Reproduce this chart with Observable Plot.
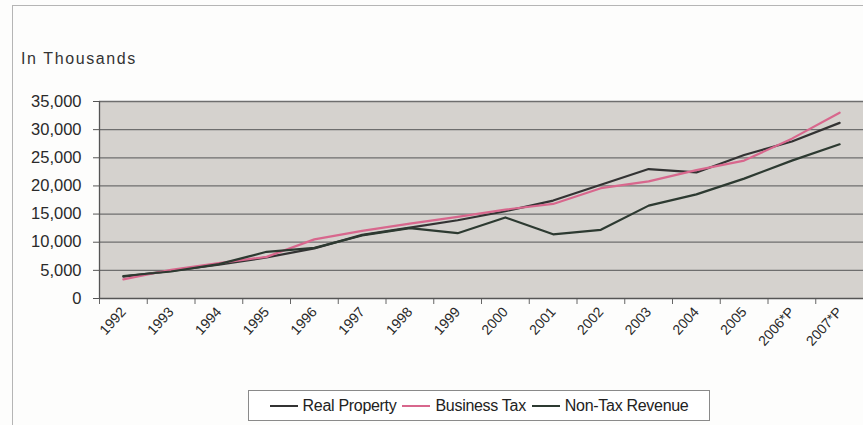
<!DOCTYPE html>
<html>
<head>
<meta charset="utf-8">
<script src="https://cdn.jsdelivr.net/npm/d3@7"></script>
<script src="https://cdn.jsdelivr.net/npm/@observablehq/plot@0.6"></script>
<style>
  html, body { margin: 0; padding: 0; background: #fdfdfc; }
  body { width: 863px; height: 425px; overflow: hidden; position: relative; font-family: "Liberation Sans", Arial, sans-serif; color: #2a2a2a; }
  #frame { position: absolute; left: 12px; top: 5px; width: 900px; height: 500px; border-left: 1.5px solid #b5b5b5; border-top: 1.5px solid #b5b5b5; }
  #chart { position: absolute; left: 0; top: 0; }
  #unit { position: absolute; left: 21px; top: 50px; font-size: 16px; letter-spacing: 1.6px; color: #333; }
  #legend { position: absolute; left: 248px; top: 390px; width: 460px; height: 29px; border: 1.5px solid #8a8a8a; background: #fff; display: flex; align-items: center; justify-content: center; font-size: 16px; color: #222; letter-spacing: -0.3px; }
  .item { display: flex; align-items: center; margin: 0 3px; }
  .sw { width: 28px; height: 2px; margin-right: 5px; }
</style>
</head>
<body>
<div id="frame"></div>
<div id="chart"></div>
<div id="unit">In Thousands</div>
<div id="legend"></div>
<script>
const years = ["1992","1993","1994","1995","1996","1997","1998","1999","2000","2001","2002","2003","2004","2005","2006*P","2007*P"];
const realProperty = [3900, 4900, 6000, 7300, 8900, 11300, 12600, 13900, 15500, 17400, 20200, 23000, 22400, 25500, 27900, 31200];
const businessTax  = [3400, 5100, 6300, 7400, 10500, 12000, 13300, 14500, 15800, 16800, 19600, 20800, 22800, 24500, 28400, 33000];
const nonTaxRevenue = [4000, 4800, 6100, 8300, 9000, 11200, 12500, 11600, 14400, 11400, 12200, 16500, 18500, 21300, 24500, 27400];
const seriesNames = ["Real Property", "Business Tax", "Non-Tax Revenue"];
const seriesColors = ["#333333", "#d8678d", "#2d3a31"];
const yTicks = [0, 5000, 10000, 15000, 20000, 25000, 30000, 35000];

const seriesValues = [realProperty, businessTax, nonTaxRevenue];
const rows = [];
seriesNames.forEach((name, s) => {
  seriesValues[s].forEach((v, i) => rows.push({series: name, i, value: v}));
});
const idx = years.map((_, i) => i);
const bounds = [-0.5, ...idx.map(i => i + 0.5)];

const chart = Plot.plot({
  width: 863,
  height: 385,
  marginLeft: 99,
  marginRight: 0,
  marginTop: 101,
  marginBottom: 87,
  style: {fontFamily: '"Liberation Sans", Arial, sans-serif', color: "#2a2a2a", background: "transparent"},
  x: {type: "linear", domain: [-0.5, years.length - 0.5], label: null},
  y: {domain: [0, 35000], label: null},
  color: {domain: seriesNames, range: seriesColors},
  marks: [
    Plot.frame({fill: "#d5d2ce", stroke: null}),
    Plot.ruleY(yTicks.filter(d => d > 0), {stroke: "#6e6e6e", strokeWidth: 1.3}),
    Plot.axisY({ticks: yTicks, tickFormat: d3.format(","), tickSize: 6, tickPadding: 12, fontSize: 16.5, stroke: "#555", label: null}),
    Plot.axisX({ticks: bounds, tickSize: 6, tickFormat: () => "", stroke: "#666", label: null}),
    Plot.axisX({ticks: idx, tickSize: 0, tickPadding: 11, tickRotate: -48, fontSize: 14, tickFormat: i => years[i], label: null}),
    Plot.ruleY([0], {stroke: "#555", strokeWidth: 1.5}),
    Plot.ruleX([-0.5], {y1: 0, y2: 35000, stroke: "#555", strokeWidth: 1.3}),
    Plot.line(rows, {x: "i", y: "value", z: "series", stroke: "series", strokeWidth: 2.2})
  ]
});
document.getElementById("chart").appendChild(chart);

const legend = document.getElementById("legend");
seriesNames.forEach((name, s) => {
  const it = document.createElement("div");
  it.className = "item";
  const sw = document.createElement("span");
  sw.className = "sw";
  sw.style.background = seriesColors[s];
  const tx = document.createElement("span");
  tx.textContent = name;
  it.appendChild(sw); it.appendChild(tx);
  legend.appendChild(it);
});
</script>
</body>
</html>
